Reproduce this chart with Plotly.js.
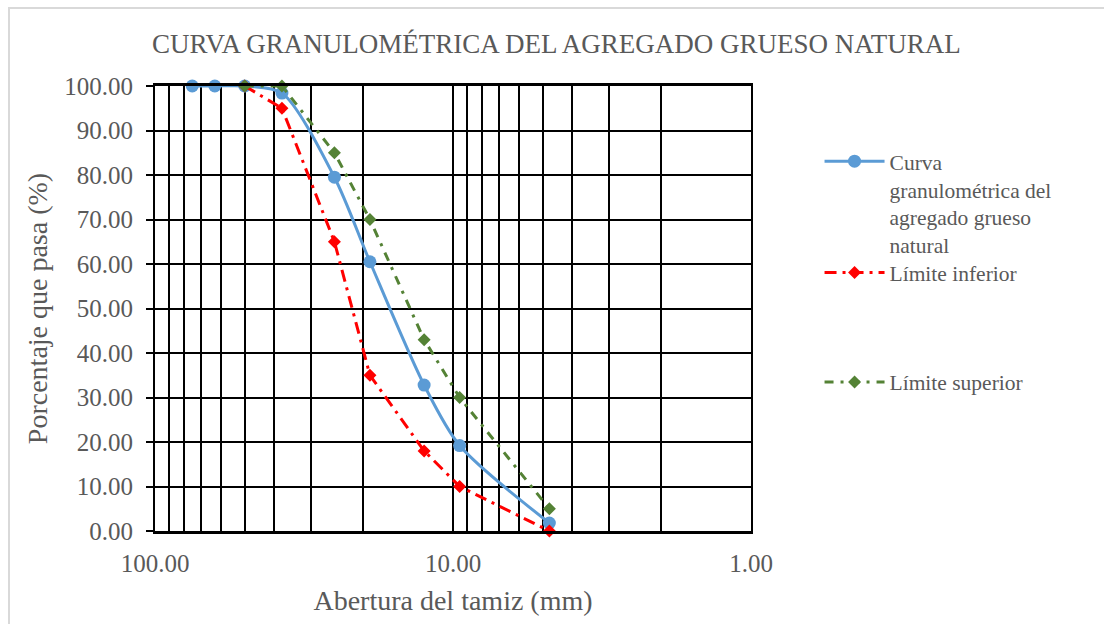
<!DOCTYPE html>
<html>
<head>
<meta charset="utf-8">
<script src="https://cdn.plot.ly/plotly-3.0.1.min.js"></script>
<style>
  html, body { margin: 0; padding: 0; background: #fff; }
  #frame { position: absolute; left: 8px; top: 7px; width: 1200px; height: 700px; border: 2px solid #d9d9d9; }
  #chart { position: absolute; left: 0; top: 0; width: 1104px; height: 624px; }
</style>
</head>
<body>
<div id="frame"></div>
<div id="chart"></div>
<script>
// Sieve openings (mm)
const aberturaCurva = [75, 63, 50, 37.5, 25, 19, 12.5, 9.5, 4.75];
const pasaCurva = [100, 100, 100, 98.4, 79.5, 60.5, 32.8, 19.2, 1.8];

const aberturaLimites = [50, 37.5, 25, 19, 12.5, 9.5, 4.75];
const limiteInferior = [100, 95, 65, 35, 18, 10, 0];
const limiteSuperior = [100, 100, 85, 70, 43, 30, 5];

const xGridVals = [1, 2, 3, 4, 5, 6, 7, 8, 9, 10, 20, 30, 40, 50, 60, 70, 80, 90, 100];
const xGridText = ["1.00", "", "", "", "", "", "", "", "", "10.00", "", "", "", "", "", "", "", "", "100.00"];

const FONT = "Liberation Serif, Times New Roman, serif";
const GREY = "#595959";

const traces = [
  {
    x: aberturaCurva, y: pasaCurva, type: "scatter", mode: "lines+markers",
    name: "Curva<br>granulométrica del<br>agregado grueso<br>natural",
    line: { color: "#5B9BD5", width: 3, shape: "spline", smoothing: 0.8 },
    marker: { symbol: "circle", size: 13, color: "#5B9BD5" },
    cliponaxis: false,
    legend: "legend"
  },
  {
    x: aberturaLimites, y: limiteInferior, type: "scatter", mode: "lines+markers",
    name: "Límite inferior",
    line: { color: "#FF0000", width: 3, dash: "12px,6px,3px,6px" },
    marker: { symbol: "diamond", size: 10, color: "#FF0000" },
    cliponaxis: false,
    legend: "legend2"
  },
  {
    x: aberturaLimites, y: limiteSuperior, type: "scatter", mode: "lines+markers",
    name: "Límite superior",
    line: { color: "#548235", width: 3, dash: "9px,7px,3px,7px" },
    marker: { symbol: "diamond", size: 10, color: "#548235" },
    cliponaxis: false,
    legend: "legend3"
  }
];

const legendBase = {
  xanchor: "left", yanchor: "top", valign: "top",
  font: { family: FONT, size: 21.5, color: GREY },
  bgcolor: "rgba(0,0,0,0)", itemwidth: 60
};

const layout = {
  width: 1104, height: 624,
  margin: { l: 155, r: 353, t: 86, b: 93, pad: 0 },
  paper_bgcolor: "rgba(0,0,0,0)",
  plot_bgcolor: "#ffffff",
  title: {
    text: "CURVA GRANULOMÉTRICA DEL AGREGADO GRUESO NATURAL",
    font: { family: FONT, size: 27, color: GREY },
    x: 0.504, xanchor: "center", y: 0.93, yanchor: "middle"
  },
  xaxis: {
    type: "log", range: [2, 0],
    tickmode: "array", tickvals: xGridVals, ticktext: xGridText,
    showgrid: true, gridcolor: "#000", gridwidth: 2,
    showline: true, linecolor: "#000", linewidth: 3, mirror: true,
    ticks: "", zeroline: false, ticklabelstandoff: 8,
    tickfont: { family: FONT, size: 25, color: GREY },
    title: { text: "Abertura del tamiz (mm)", font: { family: FONT, size: 28, color: GREY }, standoff: 15 }
  },
  yaxis: {
    range: [0, 100], dtick: 10, tick0: 0, tickformat: ".2f",
    showgrid: true, gridcolor: "#000", gridwidth: 2,
    showline: true, linecolor: "#000", linewidth: 2, mirror: true,
    ticks: "outside", ticklen: 7, tickwidth: 2, tickcolor: "#000",
    zeroline: false, ticklabelstandoff: 8,
    tickfont: { family: FONT, size: 25, color: GREY },
    title: { text: "Porcentaje que pasa (%)", font: { family: FONT, size: 28, color: GREY }, standoff: 8 }
  },
  legend: Object.assign({}, legendBase, { x: 1.115, y: 0.877 }),
  legend2: Object.assign({}, legendBase, { x: 1.115, y: 0.627 }),
  legend3: Object.assign({}, legendBase, { x: 1.115, y: 0.381 }),
  showlegend: true
};

Plotly.newPlot("chart", traces, layout, { displayModeBar: false, staticPlot: true });
</script>
</body>
</html>
